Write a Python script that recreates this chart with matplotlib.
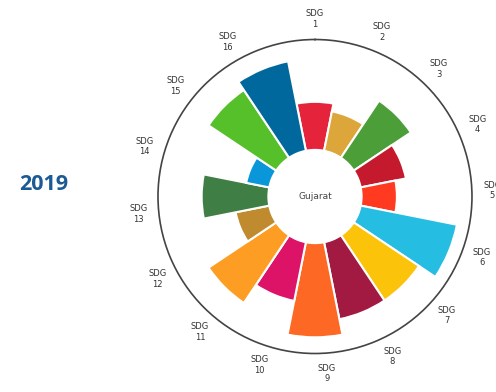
import numpy as np
import matplotlib
matplotlib.use('Agg')
import matplotlib.pyplot as plt

state = 'Gujarat'
year = '2019'
goals = ['SDG\n' + str(i) for i in range(1, 17)]
scores = [49, 41, 70, 47, 36, 100, 80, 80, 96, 61, 83, 35, 68, 24, 83, 93]
colors = ['#E5243B', '#DDA63A', '#4C9F38', '#C5192D', '#FF3A21', '#26BDE2',
          '#FCC30B', '#A21942', '#FD6925', '#DD1367', '#FD9D24', '#BF8B2E',
          '#3F7E44', '#0A97D9', '#56C02B', '#00689D']

hole = 47.5
n = len(scores)
theta = np.arange(n) * 2 * np.pi / n

fig = plt.figure(figsize=(4.96, 3.92), dpi=100)
ax = fig.add_axes([0.3185, 0.0982, 0.6331, 0.801], projection='polar')
ax.set_theta_offset(np.pi / 2)
ax.set_theta_direction(-1)

ax.bar(theta, scores, width=2 * np.pi / n, bottom=hole, color=colors,
       edgecolor='white', linewidth=1.5)

ax.set_ylim(0, 160)
ax.set_xticks([])
ax.set_yticks([])
ax.grid(False)
ax.spines['polar'].set_color('#444444')
ax.spines['polar'].set_linewidth(1.2)

# labels drift a little from the bars in the original
label_theta = np.arange(n) * np.deg2rad(22.03)
for t, g in zip(label_theta, goals):
    ax.text(t, 181, g, ha='center', va='center', fontsize=6,
            linespacing=1.2, color='#333333', clip_on=False)

ax.text(0, 0, state, ha='center', va='center', fontsize=6.5, color='#444444')

fig.text(44 / 496, 1 - 184.5 / 392, year, ha='center', va='center',
         fontsize=15.5, fontweight='bold', family='Open Sans', color='#1B5A94')

fig.savefig('out.png', dpi=100)
